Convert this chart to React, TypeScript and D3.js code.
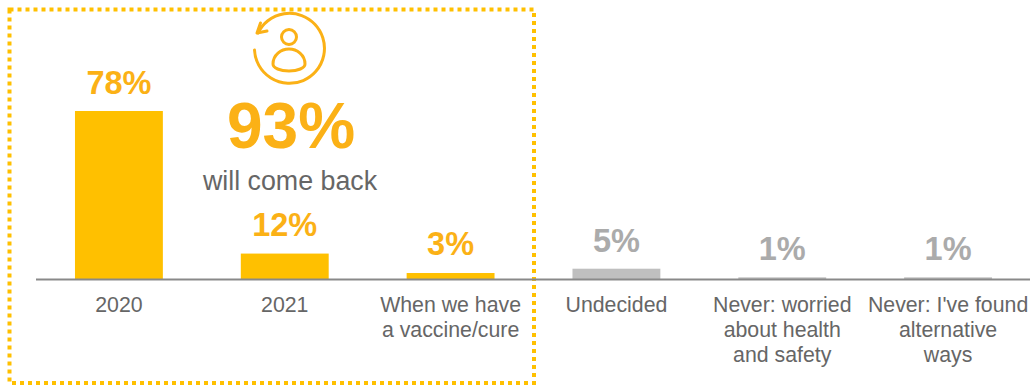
import React from "react";
import * as d3 from "d3";

const categories = ["2020", "2021", "When we have|a vaccine/cure", "Undecided", "Never: worried|about health|and safety", "Never: I've found|alternative|ways"];
const values = [78, 12, 3, 5, 1, 1];
const groups = ["back", "back", "back", "other", "other", "other"];
const valueLabels = ["78%", "12%", "3%", "5%", "1%", "1%"];
const labelBaselines = [94, 236, 255, 252, 260, 260];

const WIDTH = 1030;
const HEIGHT = 385;
const FONT = "'Liberation Sans', Arial, sans-serif";
const AXIS_Y = 279.5;

const x = d3.scaleBand<number>().domain(d3.range(categories.length)).range([36, 1031]).paddingInner(0.47).paddingOuter(0.235);
const y = d3.scaleLinear().domain([0, 78]).range([AXIS_Y, 111]);

const barFill: Record<string, string> = { back: "#FFC000", other: "#BFBFBF" };
const labelFill: Record<string, string> = { back: "#FBB116", other: "#ABABAB" };

export default function App() {
  return (
    <svg width={WIDTH} height={HEIGHT} viewBox={`0 0 ${WIDTH} ${HEIGHT}`} style={{ position: "absolute", left: 0, top: 0, fontFamily: FONT }}>
      {/* dotted highlight around the returning group */}
      <rect x={9.5} y={9.5} width={524.5} height={373.5} fill="none" stroke="#FFC000" strokeWidth={4} strokeDasharray="4 4" />

      {values.map((v, i) => (
        <rect key={i} x={x(i)} y={y(v)} width={x.bandwidth()} height={AXIS_Y - y(v)} fill={barFill[groups[i]]} />
      ))}
      <line x1={36} x2={1030} y1={AXIS_Y} y2={AXIS_Y} stroke="#898989" strokeWidth={2} />

      {values.map((_, i) => (
        <text key={i} x={x(i)! + x.bandwidth() / 2} y={labelBaselines[i]} textAnchor="middle" fontSize={32.5} fontWeight="bold" fill={labelFill[groups[i]]}>
          {valueLabels[i]}
        </text>
      ))}

      {categories.map((c, i) => (
        <text key={i} textAnchor="middle" fontSize={21.3} fill="#666666">
          {c.split("|").map((line, j) => (
            <tspan key={j} x={x(i)! + x.bandwidth() / 2} y={312 + j * 25}>{line}</tspan>
          ))}
        </text>
      ))}

      {/* returning-visitor icon */}
      <g fill="none" stroke="#FBB116" strokeWidth={3} strokeLinecap="round" strokeLinejoin="round">
        <path d="M254.5 50 A35 35 0 1 0 258 33" />
        <path d="M260.5 23 L257 33 L267 31" />
        <circle cx={289} cy={37} r={7.5} />
        <path d="M273 64 C273 55 281 49 289 49 C297 49 305 55 305 64 C305 68 298 71 289 71 C280 71 273 68 273 64 Z" />
      </g>

      <text x={291} y={148} textAnchor="middle" fontSize={64} fontWeight="bold" fill="#FBB116">93%</text>
      <text x={290} y={190} textAnchor="middle" fontSize={26.8} fill="#666666">will come back</text>
    </svg>
  );
}
